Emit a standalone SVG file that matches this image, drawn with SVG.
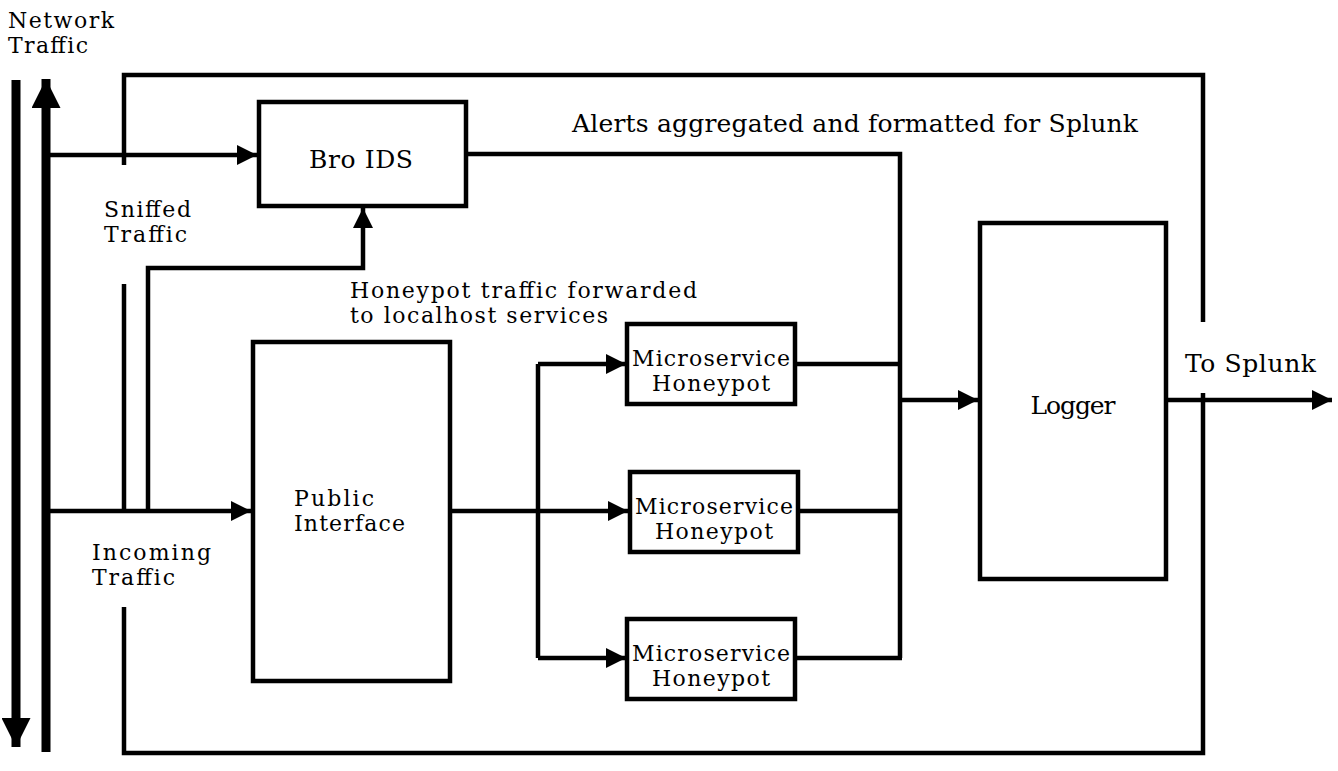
<svg xmlns="http://www.w3.org/2000/svg" width="1338" height="771" viewBox="0 0 1338 771">
<style>
.t{font-family:"DejaVu Serif","Liberation Serif",serif;font-size:25px;fill:#000}
.s{font-size:22px}
.box{fill:#fff;stroke:#000;stroke-width:4.5}
.ln{fill:none;stroke:#000;stroke-width:4.5;stroke-linejoin:miter}
.big{fill:none;stroke:#000;stroke-width:9}
</style>
<defs>
<marker id="ah" viewBox="0 0 10 10" refX="10" refY="5" markerUnits="userSpaceOnUse" markerWidth="26" markerHeight="20" orient="auto"><path d="M0,0 L10,5 L0,10 Z" fill="#000"/></marker>
<marker id="bh" viewBox="0 0 10 10" refX="10" refY="5" markerUnits="userSpaceOnUse" markerWidth="39" markerHeight="29" orient="auto"><path d="M0,0 L10,5 L0,10 Z" fill="#000"/></marker>
</defs>
<g id="connectors">
<line class="big" x1="16" y1="80" x2="16" y2="747" marker-end="url(#bh)"/>
<line class="big" x1="46" y1="752" x2="46" y2="79" marker-end="url(#bh)"/>
<path class="ln" d="M124,165 V75 H1203 V322"/>
<path class="ln" d="M1203,393 V753 H124 V607"/>
<line class="ln" x1="124" y1="284" x2="124" y2="511"/>
<line class="ln" x1="50" y1="155" x2="257" y2="155" marker-end="url(#ah)"/>
<line class="ln" x1="50" y1="511" x2="251" y2="511" marker-end="url(#ah)"/>
<path class="ln" d="M148,511 V268 H363 V208" marker-end="url(#ah)"/>
<path class="ln" d="M467,154 H900 V658"/>
<line class="ln" x1="450" y1="511" x2="538" y2="511"/>
<path class="ln" d="M538,364 V658"/>
<line class="ln" x1="538" y1="364" x2="626" y2="364" marker-end="url(#ah)"/>
<line class="ln" x1="538" y1="511" x2="628" y2="511" marker-end="url(#ah)"/>
<line class="ln" x1="538" y1="658" x2="626" y2="658" marker-end="url(#ah)"/>
<line class="ln" x1="795" y1="364" x2="900" y2="364"/>
<line class="ln" x1="798" y1="511" x2="900" y2="511"/>
<line class="ln" x1="795" y1="658" x2="902" y2="658"/>
<line class="ln" x1="900" y1="400" x2="978" y2="400" marker-end="url(#ah)"/>
<line class="ln" x1="1166" y1="400" x2="1332" y2="400" marker-end="url(#ah)"/>
</g>
<g id="bro-ids"><rect class="box" x="259" y="102" width="207" height="104"/><text class="t" x="361" y="168" text-anchor="middle" textLength="104">Bro IDS</text></g>
<g id="public-interface"><rect class="box" x="253" y="342" width="197" height="339"/><text class="t s" x="294" y="506" textLength="80">Public</text><text class="t s" x="294" y="531" textLength="111">Interface</text></g>
<g id="honeypot-1"><rect class="box" x="627" y="324" width="168" height="80"/><text class="t s" x="711" y="366" text-anchor="middle" textLength="158">Microservice</text><text class="t s" x="711" y="391" text-anchor="middle" textLength="118">Honeypot</text></g>
<g id="honeypot-2"><rect class="box" x="630" y="472" width="168" height="80"/><text class="t s" x="714" y="514" text-anchor="middle" textLength="158">Microservice</text><text class="t s" x="714" y="539" text-anchor="middle" textLength="118">Honeypot</text></g>
<g id="honeypot-3"><rect class="box" x="627" y="619" width="168" height="80"/><text class="t s" x="711" y="661" text-anchor="middle" textLength="158">Microservice</text><text class="t s" x="711" y="686" text-anchor="middle" textLength="118">Honeypot</text></g>
<g id="logger"><rect class="box" x="980" y="223" width="186" height="356"/><text class="t" x="1073" y="414" text-anchor="middle" textLength="85">Logger</text></g>
<g id="labels">
<text class="t s" x="8" y="28" textLength="106">Network</text><text class="t s" x="8" y="53" textLength="80">Traffic</text>
<text class="t s" x="104" y="217" textLength="87">Sniffed</text><text class="t s" x="104" y="242" textLength="83">Traffic</text>
<text class="t s" x="92" y="560" textLength="119">Incoming</text><text class="t s" x="92" y="585" textLength="83">Traffic</text>
<text class="t s" x="350" y="298" textLength="347">Honeypot traffic forwarded</text><text class="t s" x="350" y="323" textLength="258">to localhost services</text>
<text class="t" x="572" y="132" textLength="566">Alerts aggregated and formatted for Splunk</text>
<text class="t" x="1185" y="372" textLength="131">To Splunk</text>
</g>
</svg>
